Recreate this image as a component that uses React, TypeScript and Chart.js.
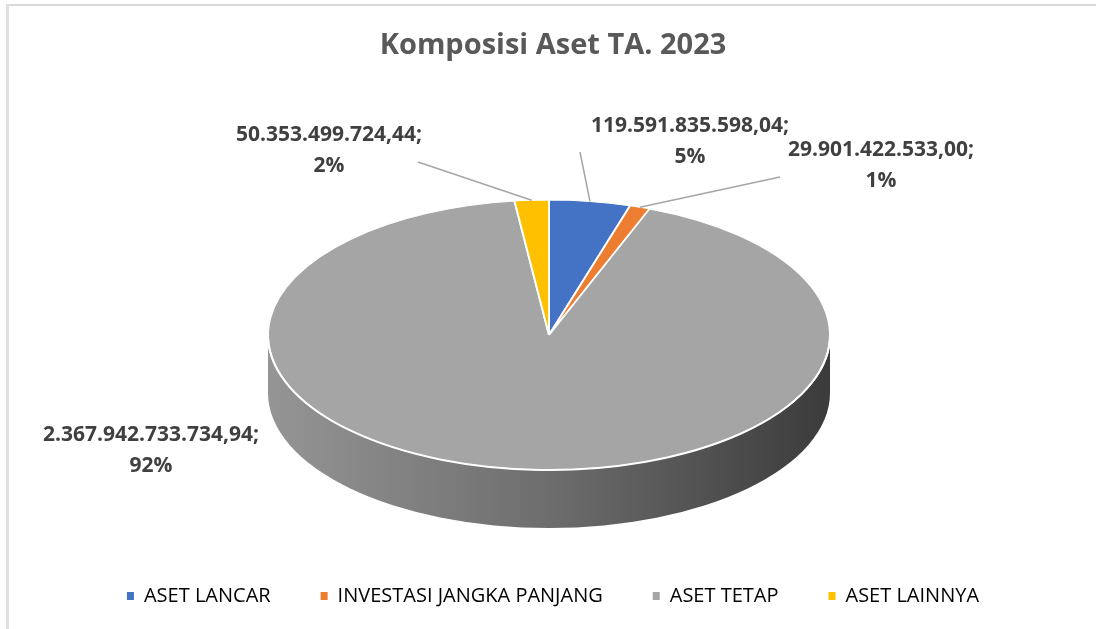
import React, { useEffect, useRef } from "react";
import { Chart, registerables } from "chart.js";

Chart.register(...registerables);

// ---------- data ----------
const TITLE = "Komposisi Aset TA. 2023";
const categories = ["ASET LANCAR", "INVESTASI JANGKA PANJANG", "ASET TETAP", "ASET LAINNYA"];
const values = [119591835598.04, 29901422533.0, 2367942733734.94, 50353499724.44];
const sliceColors = ["#4472C4", "#ED7D31", "#A5A5A5", "#FFC000"];

// ---------- layout (screen px) ----------
const PIE = { cx: 549, cy: 335, rx: 281, ry: 135, depth: 58 };
const LABEL_POS = [
  { x: 690, y: 126, leader: [580, 152] },
  { x: 881, y: 150, leader: [780, 177] },
  { x: 151, y: 435, leader: null as null | number[] },
  { x: 329, y: 135, leader: [418, 162] },
];
const LINE_GAP = 31;
const FONT = "'Open Sans', sans-serif";

function formatId(v: number): string {
  const fixed = v.toFixed(2);
  const parts = fixed.split(".");
  const grouped = parts[0].replace(/\B(?=(\d{3})+(?!\d))/g, ".");
  return grouped + "," + parts[1];
}

function shade(hex: string, f: number): string {
  const n = parseInt(hex.slice(1), 16);
  const r = Math.round(((n >> 16) & 255) * f);
  const g = Math.round(((n >> 8) & 255) * f);
  const b = Math.round((n & 255) * f);
  return `rgb(${r},${g},${b})`;
}

const pie3d = {
  id: "pie3d",
  beforeDatasetsDraw(chart: any) {
    const ctx: CanvasRenderingContext2D = chart.ctx;
    const meta = chart.getDatasetMeta(0);
    const first = meta.data[0];
    const rx = first.outerRadius;
    const k = PIE.ry / PIE.rx;
    const ry = rx * k;
    const { cx, cy, depth } = PIE;
    meta.data.forEach((arc: any, i: number) => {
      const a = Math.max(arc.startAngle, 0);
      const b = Math.min(arc.endAngle, Math.PI);
      if (a >= b) return;
      const g = ctx.createLinearGradient(cx - rx, 0, cx + rx, 0);
      const base = sliceColors[i];
      g.addColorStop(0, shade(base, 0.9));
      g.addColorStop(0.5, shade(base, 0.66));
      g.addColorStop(1, shade(base, 0.36));
      ctx.save();
      ctx.beginPath();
      ctx.ellipse(cx, cy, rx, ry, 0, a, b);
      ctx.ellipse(cx, cy + depth, rx, ry, 0, b, a, true);
      ctx.closePath();
      ctx.fillStyle = g;
      ctx.fill();
      ctx.restore();
    });
    ctx.save();
    ctx.translate(cx, cy);
    ctx.scale(1, k);
    ctx.translate(-first.x, -first.y);
  },
  afterDatasetsDraw(chart: any) {
    const ctx: CanvasRenderingContext2D = chart.ctx;
    ctx.restore();
    const meta = chart.getDatasetMeta(0);
    const rx = meta.data[0].outerRadius;
    const ry = rx * (PIE.ry / PIE.rx);
    const { cx, cy } = PIE;

    // front rim highlight
    ctx.save();
    ctx.beginPath();
    ctx.ellipse(cx, cy, rx, ry, 0, 0.03, Math.PI - 0.03);
    ctx.strokeStyle = "rgba(255,255,255,0.95)";
    ctx.lineWidth = 2;
    ctx.stroke();
    ctx.restore();

    const total = values.reduce((s, v) => s + v, 0);
    ctx.save();
    meta.data.forEach((arc: any, i: number) => {
      const pos = LABEL_POS[i];
      const mid = (arc.startAngle + arc.endAngle) / 2;
      if (pos.leader) {
        const ax = cx + rx * Math.cos(mid);
        const ay = cy + ry * Math.sin(mid);
        ctx.beginPath();
        ctx.moveTo(pos.leader[0], pos.leader[1]);
        ctx.lineTo(ax, ay);
        ctx.strokeStyle = "#a6a6a6";
        ctx.lineWidth = 1.5;
        ctx.stroke();
      }
      const pct = Math.round((values[i] / total) * 100) + "%";
      ctx.font = `bold 21px ${FONT}`;
      ctx.fillStyle = "#404040";
      ctx.textAlign = "center";
      ctx.textBaseline = "middle";
      ctx.fillText(formatId(values[i]) + ";", pos.x, pos.y);
      ctx.fillText(pct, pos.x, pos.y + LINE_GAP);
    });
    ctx.restore();
  },
};

export default function App() {
  const ref = useRef<HTMLCanvasElement | null>(null);
  useEffect(() => {
    if (!ref.current) return;
    const chart = new Chart(ref.current, {
      type: "pie",
      data: {
        labels: categories,
        datasets: [
          {
            data: values,
            backgroundColor: sliceColors,
            borderColor: "#ffffff",
            borderWidth: 2,
            radius: PIE.rx,
            clip: false,
          } as any,
        ],
      },
      options: {
        responsive: false,
        animation: false,
        devicePixelRatio: 1,
        layout: { padding: { left: 10, right: 0, top: 0, bottom: 13 } },
        plugins: {
          tooltip: { enabled: false },
          title: {
            display: true,
            text: TITLE,
            color: "#595959",
            font: { size: 29, weight: "bold", family: FONT },
            padding: { top: 28, bottom: 10 },
          },
          legend: {
            display: true,
            position: "bottom",
            labels: {
              color: "#595959",
              font: { size: 20, family: FONT },
              boxWidth: 7,
              boxHeight: 8,
              padding: 50,
              generateLabels: (c: any) =>
                c.data.labels.map((l: string, i: number) => ({
                  text: l,
                  fillStyle: sliceColors[i],
                  strokeStyle: sliceColors[i],
                  lineWidth: 0,
                  hidden: false,
                  index: i,
                })),
            },
          },
        },
      } as any,
      plugins: [pie3d],
    });
    return () => chart.destroy();
  }, []);

  return (
    <div
      style={{
        position: "absolute",
        left: 0,
        top: 0,
        width: 1096,
        height: 629,
        overflow: "hidden",
        background: "#ffffff",
      }}
    >
      <div
        style={{
          position: "absolute",
          left: 6,
          top: 4,
          width: 1200,
          height: 800,
          borderLeft: "3px solid #e0e0e0",
          borderTop: "2px solid #d9d9d9",
        }}
      />
      <canvas
        ref={ref}
        width={1096}
        height={629}
        style={{ position: "absolute", left: 0, top: 0, display: "block" }}
      />
    </div>
  );
}
